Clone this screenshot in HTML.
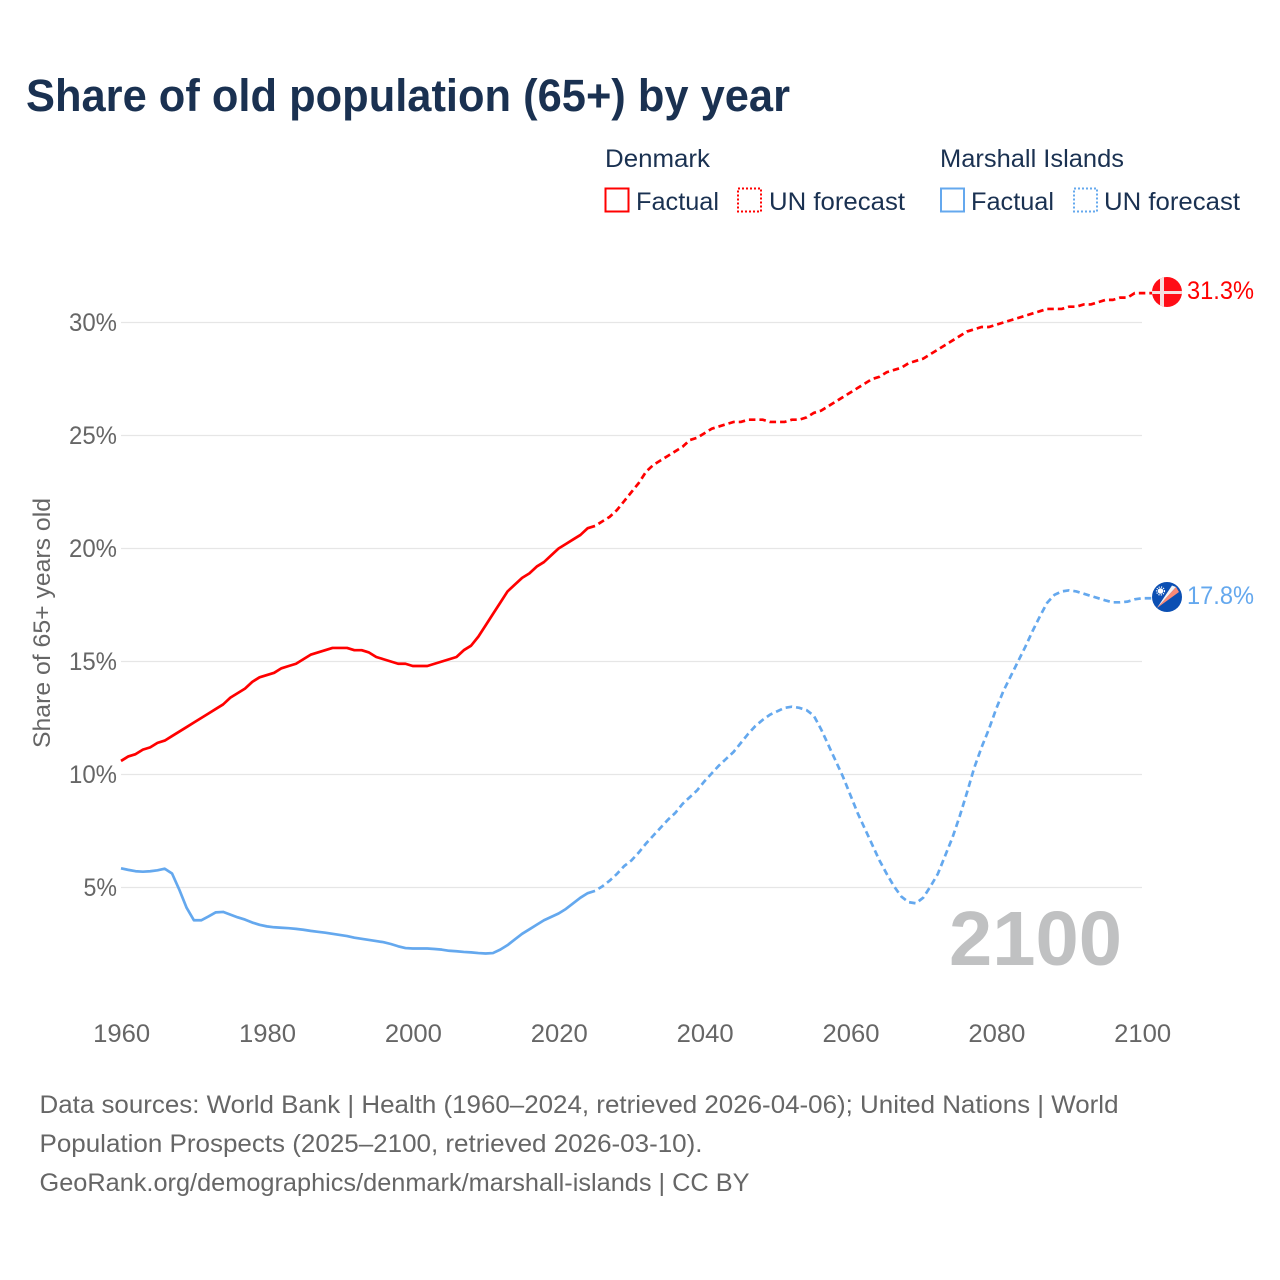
<!DOCTYPE html>
<html lang="en">
<head>
<meta charset="utf-8">
<title>Share of old population (65+) by year</title>
<style>
html,body{margin:0;padding:0;background:#fff;}
svg{display:block;font-family:"Liberation Sans",sans-serif;}
</style>
</head>
<body>
<svg id="chart" width="1280" height="1280" viewBox="0 0 1280 1280" xmlns="http://www.w3.org/2000/svg">
<defs>
<clipPath id="flag-clip-dk"><circle cx="1167" cy="292" r="15"/></clipPath>
<clipPath id="flag-clip-mh"><circle cx="1167" cy="597" r="15"/></clipPath>
</defs>
<text x="26" y="111" font-size="45" font-weight="700" fill="#1a3151" textLength="764" lengthAdjust="spacingAndGlyphs">Share of old population (65+) by year</text>

<g fill="#1a3151" font-size="25">
<text x="605" y="167" textLength="105" lengthAdjust="spacingAndGlyphs">Denmark</text>
<rect x="605.5" y="188.5" width="23" height="23" fill="none" stroke="#ff0000" stroke-width="2"/>
<text x="636" y="210" textLength="83" lengthAdjust="spacingAndGlyphs">Factual</text>
<rect x="738" y="188.5" width="23" height="23" fill="none" stroke="#ff0000" stroke-width="2" stroke-dasharray="2 2"/>
<text x="769" y="210" textLength="136" lengthAdjust="spacingAndGlyphs">UN forecast</text>
<text x="940" y="167" textLength="184" lengthAdjust="spacingAndGlyphs">Marshall Islands</text>
<rect x="941" y="188.5" width="23" height="23" fill="none" stroke="#64a8ee" stroke-width="2"/>
<text x="971" y="210" textLength="83" lengthAdjust="spacingAndGlyphs">Factual</text>
<rect x="1074" y="188.5" width="23" height="23" fill="none" stroke="#64a8ee" stroke-width="2" stroke-dasharray="2 2"/>
<text x="1104" y="210" textLength="136" lengthAdjust="spacingAndGlyphs">UN forecast</text>
</g>

<g id="grid"></g>
<g id="yticks"></g>
<g id="xticks"></g>
<text transform="translate(50,623) rotate(-90)" text-anchor="middle" font-size="24" fill="#666666" textLength="250" lengthAdjust="spacingAndGlyphs">Share of 65+ years old</text>
<text x="949" y="965" font-size="77" font-weight="700" fill="#c0c1c2" textLength="173" lengthAdjust="spacingAndGlyphs">2100</text>
<g id="series"></g>

<g clip-path="url(#flag-clip-dk)">
<rect x="1152" y="277" width="30" height="30" fill="#ff0d16"/>
<rect x="1160" y="277" width="4" height="30" fill="#f6dfdf"/>
<rect x="1152" y="291" width="30" height="3" fill="#f6dfdf"/>
</g>
<g clip-path="url(#flag-clip-mh)">
<rect x="1152" y="582" width="30" height="30" fill="#0b4fb3"/>
<polygon points="1157,608 1172,585.5 1176,587" fill="#f4f4f4"/>
<polygon points="1157,608 1176,587 1179,592" fill="#fb8a76"/>
<circle cx="1160.5" cy="591" r="2.8" fill="#ffffff"/>
<circle cx="1160.5" cy="591" r="4" fill="none" stroke="#ffffff" stroke-width="1.2" stroke-dasharray="1.2 1.2"/>
</g>
<text id="end-dk" x="1187" y="299" font-size="25" fill="#ff0000" textLength="67" lengthAdjust="spacingAndGlyphs"></text>
<text id="end-mh" x="1187" y="604" font-size="25" fill="#64a8ee" textLength="67" lengthAdjust="spacingAndGlyphs"></text>

<g font-size="25" fill="#666666">
<text x="39.5" y="1113" textLength="1079" lengthAdjust="spacingAndGlyphs">Data sources: World Bank | Health (1960–2024, retrieved 2026-04-06); United Nations | World</text>
<text x="39.5" y="1152" textLength="663" lengthAdjust="spacingAndGlyphs">Population Prospects (2025–2100, retrieved 2026-03-10).</text>
<text x="39.5" y="1191" textLength="710" lengthAdjust="spacingAndGlyphs">GeoRank.org/demographics/denmark/marshall-islands | CC BY</text>
</g>
</svg>
<script>
const startYear = 1960;
const lastFactualYear = 2024;
const xTickYears = [1960, 1980, 2000, 2020, 2040, 2060, 2080, 2100];
const yTickValues = [5, 10, 15, 20, 25, 30];
const denmark = [
10.6,10.8,10.9,11.1,11.2,11.4,11.5,11.7,11.9,12.1,
12.3,12.5,12.7,12.9,13.1,13.4,13.6,13.8,14.1,14.3,
14.4,14.5,14.7,14.8,14.9,15.1,15.3,15.4,15.5,15.6,
15.6,15.6,15.5,15.5,15.4,15.2,15.1,15.0,14.9,14.9,
14.8,14.8,14.8,14.9,15.0,15.1,15.2,15.5,15.7,16.1,
16.6,17.1,17.6,18.1,18.4,18.7,18.9,19.2,19.4,19.7,
20.0,20.2,20.4,20.6,20.9,21.0,21.2,21.4,21.7,22.1,
22.5,22.9,23.4,23.7,23.9,24.1,24.3,24.5,24.8,24.9,
25.1,25.3,25.4,25.5,25.6,25.6,25.7,25.7,25.7,25.6,
25.6,25.6,25.7,25.7,25.8,26.0,26.1,26.3,26.5,26.7,
26.9,27.1,27.3,27.5,27.6,27.8,27.9,28.0,28.2,28.3,
28.4,28.6,28.8,29.0,29.2,29.4,29.6,29.7,29.8,29.8,
29.9,30.0,30.1,30.2,30.3,30.4,30.5,30.6,30.6,30.6,
30.7,30.7,30.8,30.8,30.9,31.0,31.0,31.1,31.1,31.3,31.3
];
const marshallIslands = [
5.85,5.78,5.72,5.70,5.72,5.76,5.83,5.62,4.9,4.1,
3.55,3.55,3.72,3.9,3.92,3.8,3.68,3.58,3.45,3.35,
3.28,3.24,3.22,3.2,3.17,3.13,3.08,3.04,3.0,2.95,
2.9,2.85,2.78,2.73,2.68,2.63,2.58,2.5,2.4,2.32,
2.3,2.3,2.3,2.28,2.25,2.2,2.18,2.15,2.13,2.1,
2.08,2.1,2.25,2.45,2.7,2.95,3.15,3.35,3.55,3.7,
3.85,4.05,4.3,4.55,4.75,4.85,5.05,5.3,5.6,5.95,
6.2,6.55,6.95,7.3,7.65,8.0,8.3,8.7,9.0,9.3,
9.7,10.05,10.4,10.7,11.0,11.4,11.8,12.15,12.42,12.65,
12.8,12.95,13.0,12.95,12.85,12.6,12.0,11.3,10.6,9.9,
9.1,8.3,7.6,6.9,6.2,5.6,5.05,4.6,4.35,4.3,
4.55,5.05,5.6,6.4,7.2,8.15,9.2,10.3,11.2,12.0,
12.9,13.7,14.35,15.0,15.65,16.35,17.0,17.6,17.95,18.1,
18.15,18.1,18.0,17.9,17.8,17.7,17.62,17.62,17.65,17.75,17.8
];

const NS = 'http://www.w3.org/2000/svg';
function xScale(year) { return 121 + (year - 1960) * (1142 - 121) / 140; }
function yScale(value) { return 887.5 - (value - 5) * (887.5 - 322.5) / 25; }
function make(tag, parent) {
  const el = document.createElementNS(NS, tag);
  parent.appendChild(el);
  return el;
}
const gridGroup = document.getElementById('grid');
const yGroup = document.getElementById('yticks');
const xGroup = document.getElementById('xticks');
const seriesGroup = document.getElementById('series');

yTickValues.forEach(function (v) {
  const line = make('line', gridGroup);
  
  
  line.setAttribute('x1', 121);
  line.setAttribute('x2', 1142);
  line.setAttribute('y1', yScale(v));
  line.setAttribute('y2', yScale(v));
  line.setAttribute('stroke', '#e6e6e6');
  line.setAttribute('stroke-width', '1.2');
  const label = make('text', yGroup);
  
  
  const text = v + '%';
  label.textContent = text;
  label.setAttribute('x', 117);
  label.setAttribute('y', yScale(v) + 8.5);
  label.setAttribute('text-anchor', 'end');
  label.setAttribute('font-size', '25');
  label.setAttribute('fill', '#666666');
  label.setAttribute('textLength', (text.length - 1) * 14.5 + 19);
  label.setAttribute('lengthAdjust', 'spacingAndGlyphs');
});

xTickYears.forEach(function (y) {
  const label = make('text', xGroup);
  
  
  label.textContent = String(y);
  label.setAttribute('x', xScale(y) + 0.7);
  label.setAttribute('y', 1042);
  label.setAttribute('text-anchor', 'middle');
  label.setAttribute('font-size', '25');
  label.setAttribute('fill', '#666666');
  label.setAttribute('textLength', '57');
  label.setAttribute('lengthAdjust', 'spacingAndGlyphs');
});

function pathFor(values, fromYear, toYear) {
  let d = '';
  for (let y = fromYear; y <= toYear; y++) {
    const v = values[y - startYear];
    d += (d ? 'L' : 'M') + xScale(y).toFixed(2) + ' ' + yScale(v).toFixed(2);
  }
  return d;
}
function drawSeries(values, color, key) {
  const endYear = startYear + values.length - 1;
  const solid = make('path', seriesGroup);
  
  
  solid.setAttribute('d', pathFor(values, startYear, lastFactualYear + 1));
  solid.setAttribute('fill', 'none');
  solid.setAttribute('stroke', color);
  solid.setAttribute('stroke-width', '2.7');
  solid.setAttribute('stroke-linejoin', 'round');
  const dashed = make('path', seriesGroup);
  
  
  const last = values[values.length - 1];
  const connector = 'L' + (xScale(endYear) + 10).toFixed(2) + ' ' + yScale(last).toFixed(2);
  dashed.setAttribute('d', pathFor(values, lastFactualYear + 1, endYear) + connector);
  dashed.setAttribute('fill', 'none');
  dashed.setAttribute('stroke', color);
  dashed.setAttribute('stroke-width', '2.7');
  dashed.setAttribute('stroke-dasharray', '6.5 4');
  dashed.setAttribute('stroke-dashoffset', '-4');
}
drawSeries(denmark, '#ff0000', 'denmark');
drawSeries(marshallIslands, '#64a8ee', 'marshall-islands');
document.getElementById('end-dk').textContent = denmark[denmark.length - 1].toFixed(1) + '%';
document.getElementById('end-mh').textContent = marshallIslands[marshallIslands.length - 1].toFixed(1) + '%';
</script>
</body>
</html>
